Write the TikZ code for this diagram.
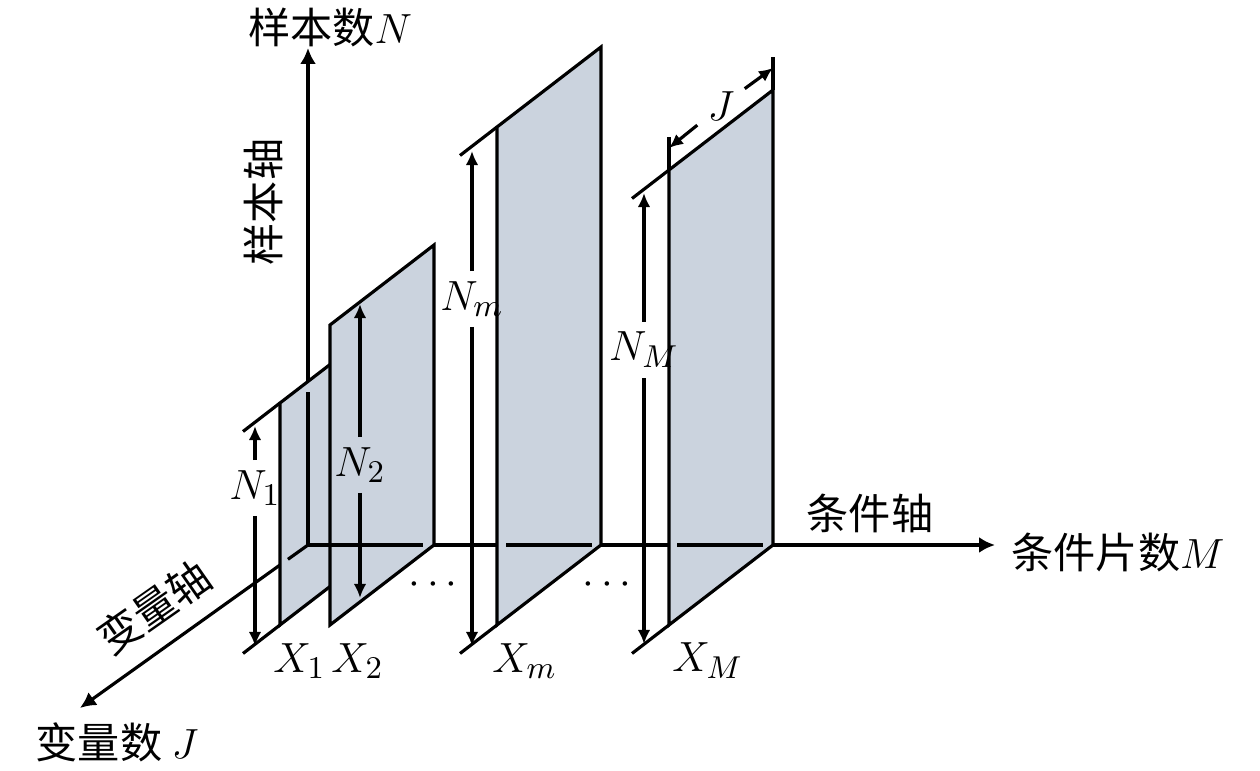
\documentclass[tikz,border=0pt]{standalone}
\usepackage{fontspec}
\newfontfamily\cjk{Noto Sans CJK SC}
\usetikzlibrary{arrows.meta,calc}
\definecolor{fetta}{RGB}{203,211,222}
\begin{document}
\begin{tikzpicture}[x=0.1mm,y=-0.1mm,line width=0.9pt,font=\fontsize{13}{15}\selectfont,
  axis/.style={-{Latex[length=4.5pt,width=4.5pt]}},
  slice/.style={fill=fetta,draw=black,line join=miter},
  dim/.style={-{Latex[length=4pt,width=3.6pt]}},
  mlab/.style={inner sep=2.5pt},
  lab/.style={font=\cjk\fontsize{12}{14}\selectfont}]
\useasboundingbox (0,0) rectangle (1260,771);
%
\coordinate (o) at (308,545);
\coordinate (nn) at (308,48);
\coordinate (mm) at (995,545);
\coordinate (jj) at (80,708);
\draw[axis] (o) -- (nn);
\draw[axis] (o) -- (mm);
\draw[axis] (o) -- (jj);
%
\foreach \x/\t/\n/\dx in {280/403/1/-17,330/325/2/-9,497/127/m/-15,669/170/M/-7}{
  \filldraw[slice] (\x,625) -- (\x,\t) -- ++(104,-80) -- ({\x+104},545) -- cycle;
  \node[mlab,anchor=west] (x\n) at ({\x+\dx},661) {$X_\n$};
}
\foreach \x/\t in {280/403,497/127,669/170}{
  \draw (\x,\t) -- ++(-37,28.5);
  \draw (\x,625) -- ++(-37,28.5);
}
\draw (669,170) -- (669,137);
\draw (773,90) -- (773,57);
%
\draw (o) -- (308,392);
\draw (o) -- (423,545);
\draw (o) -- ($(o)!0.088!(jj)$);
\draw (506,545) -- (592,545);
\draw (677,545) -- (763,545);
%
\node[mlab] (n1) at (255,488) {$N_1$};
\coordinate (n1t) at (255,426);
\coordinate (n1b) at (255,646);
\draw[dim] (n1) -- (n1t);
\draw[dim] (n1) -- (n1b);
\node[mlab] (n2) at (360,465) {$N_2$};
\coordinate (n2t) at (360,304);
\coordinate (n2b) at (360,598);
\draw[dim] (n2) -- (n2t);
\draw[dim] (n2) -- (n2b);
\node[mlab] (nm) at (472,299) {$N_m$};
\coordinate (nmt) at (472,151);
\coordinate (nmb) at (472,646);
\draw[dim] (nm) -- (nmt);
\draw[dim] (nm) -- (nmb);
\node[mlab] (nM) at (644,350) {$N_M$};
\coordinate (nMt) at (644,193);
\coordinate (nMb) at (644,644);
\draw[dim] (nM) -- (nMt);
\draw[dim] (nM) -- (nMb);
\node[mlab] (jl) at (721,106) {$J$};
\coordinate (jf) at (669,148);
\coordinate (jb) at (773,68);
\draw[dim] (jl) -- (jf);
\draw[dim] (jl) -- (jb);
%
\node (d1) at (433,585) {$\cdots$};
\node (d2) at (607,585) {$\cdots$};
%
\node[lab] (ln) at (330,27) {样本数$N$};
\node[lab,rotate=90] (ls) at (263,202) {样本轴};
\node[lab] (lc) at (870,513) {条件轴};
\node[lab] (lm) at (1118,553) {条件片数$M$};
\node[lab,rotate=35] (lv) at (154,607) {变量轴};
\node[lab] (lj) at (117,742) {变量数 $J$};
\end{tikzpicture}
\end{document}
